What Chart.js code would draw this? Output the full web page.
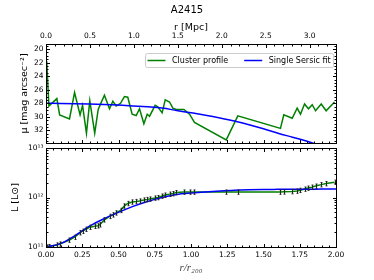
<!DOCTYPE html>
<html><head><meta charset="utf-8">
<script src="https://cdn.jsdelivr.net/npm/chart.js@4.4.1/dist/chart.umd.min.js"></script>
<style>
html,body{margin:0;padding:0;background:#fff;overflow:hidden;}
#wrap{position:relative;width:374px;height:280px;background:#fff;}
canvas{position:absolute;left:0;}
#cBot{top:140px;}
#cTop{top:0;}
</style></head><body>
<div id="wrap">
<canvas id="cBot" width="374" height="140"></canvas>
<canvas id="cTop" width="374" height="150"></canvas>
</div>
<script>
// ---------------- data ----------------
const clusterName = 'A2415';
const r200Mpc = 1.65;
const radius = [0.005, 0.02, 0.075, 0.094, 0.162, 0.197, 0.235, 0.252, 0.279, 0.302,
  0.336, 0.36, 0.372, 0.403, 0.438, 0.461, 0.484, 0.514, 0.541, 0.564,
  0.594, 0.622, 0.645, 0.675, 0.698, 0.714, 0.753, 0.771, 0.801, 0.822,
  0.852, 0.875, 0.898, 0.951, 0.99, 1.024, 1.243, 1.323, 1.617, 1.64,
  1.698, 1.732, 1.755, 1.783, 1.81, 1.836, 1.859, 1.898, 1.932, 1.99];
const muCluster = [21.8, 28.4, 27.3, 29.7, 30.3, 26.4, 29.7, 28.3, 32.4, 27.6,
  32.4, 28.9, 28.3, 26.8, 28.8, 27.7, 28.4, 28.0, 27.0, 27.1,
  29.6, 29.8, 28.8, 31.0, 29.6, 29.9, 28.3, 28.5, 29.4, 27.5,
  27.8, 28.7, 28.9, 28.9, 29.6, 30.8, 33.4, 29.85, 31.7, 29.7,
  30.2, 28.7, 29.6, 28.1, 28.8, 28.2, 29.1, 28.1, 29.1, 27.8];
const lumCluster = [1.00e11, 1.02e11, 1.10e11, 1.15e11, 1.38e11, 1.58e11, 1.95e11, 2.09e11, 2.29e11, 2.51e11,
  2.63e11, 2.69e11, 2.82e11, 3.55e11, 4.17e11, 4.47e11, 4.90e11, 5.50e11, 6.76e11, 7.59e11,
  8.13e11, 8.32e11, 8.51e11, 8.91e11, 9.12e11, 9.33e11, 9.77e11, 1.00e12, 1.07e12, 1.12e12,
  1.17e12, 1.20e12, 1.26e12, 1.29e12, 1.29e12, 1.29e12, 1.29e12, 1.29e12, 1.29e12, 1.30e12,
  1.32e12, 1.35e12, 1.40e12, 1.48e12, 1.55e12, 1.62e12, 1.70e12, 1.82e12, 1.91e12, 2.04e12];
const lumErrFrac = 0.1;
const fitRadius = [0, 0.1, 0.2, 0.3, 0.4, 0.5, 0.6, 0.7, 0.8, 0.9, 1.0,
  1.1, 1.2, 1.3, 1.4, 1.5, 1.6, 1.7, 1.8, 1.9, 2.0];
const muFit = [28.0, 28.02, 28.05, 28.1, 28.17, 28.26, 28.38, 28.52, 28.7, 29.05, 29.4,
  29.75, 30.15, 30.6, 31.15, 31.75, 32.4, 33.0, 33.6, 34.3, 35.0];
const lumFit = [1.00e11, 1.17e11, 1.70e11, 2.63e11, 3.72e11, 5.01e11, 6.61e11, 8.32e11, 1.00e12, 1.15e12, 1.23e12,
  1.29e12, 1.35e12, 1.40e12, 1.43e12, 1.45e12, 1.46e12, 1.47e12, 1.47e12, 1.48e12, 1.48e12];
const seriesLabels = ['Cluster profile', 'Single Sersic fit'];
const xTicks = [0, 0.25, 0.5, 0.75, 1.0, 1.25, 1.5, 1.75, 2.0];
const mpcTicks = [0, 0.5, 1.0, 1.5, 2.0, 2.5, 3.0];
const muTicks = [20, 22, 24, 26, 28, 30, 32];
const lumTicks = [1e11, 1e12, 1e13];

// ---------------- style helpers ----------------
const FONT = "'DejaVu Sans', sans-serif";
const GREEN = '#008000', BLUE = '#0000ff';
const TICK_FONT = {family: FONT, size: 7.5};
const LABEL_FONT = {family: FONT, size: 9.5};
Chart.defaults.font.family = FONT;

function steps(a, b, st) { const out = []; for (let v = a; v <= b + 1e-9; v += st) out.push(+v.toFixed(6)); return out; }
const xMinor = steps(0, 2, 0.05);
const mpcMinor = steps(0, 3.3, 0.1);
const muMinor = steps(19.5, 33.5, 0.5);
const lumMinor = [];
[1e11, 1e12].forEach(d => { for (let k = 2; k <= 9; k++) lumMinor.push(k * d); });

const SUP = {'0':'⁰','1':'¹','2':'²','3':'³','4':'⁴','5':'⁵','6':'⁶','7':'⁷','8':'⁸','9':'⁹','-':'⁻'};
const supStr = n => String(n).split('').map(c => SUP[c]).join('');

const fixTicks = vals => s => { s.ticks = vals.map(v => ({value: v})); };
const fixW = w => s => { s.width = w; };
const fixH = h => s => { s.height = h; };
const noGrid = {display: false, drawTicks: false};
const noBorder = {display: false};

// frame + inward tick marks
const framePlugin = {
  id: 'frame',
  afterDraw(chart, args, o) {
    const {ctx, chartArea: a} = chart;
    const L = Math.round(a.left), R = Math.round(a.right), T = Math.round(a.top), B = Math.round(a.bottom);
    ctx.save();
    ctx.strokeStyle = '#000';
    ctx.lineWidth = 1;
    ctx.strokeRect(L + 0.5, T + 0.5, R - L, B - T);
    o.edges.forEach(e => {
      const s = chart.scales[e.scale];
      const draw = (v, len) => {
        const p = s.getPixelForValue(v);
        const q = Math.round(p) + 0.5;
        ctx.beginPath();
        if (e.side === 'bottom' || e.side === 'top') {
          if (p < L - 0.5 || p > R + 0.5) return;
          const y = e.side === 'bottom' ? B + 0.5 : T + 0.5;
          const d = e.side === 'bottom' ? -len : len;
          ctx.moveTo(q, y); ctx.lineTo(q, y + d);
        } else {
          if (p < T - 0.5 || p > B + 0.5) return;
          const x = e.side === 'left' ? L + 0.5 : R + 0.5;
          const d = e.side === 'left' ? len : -len;
          ctx.moveTo(x, q); ctx.lineTo(x + d, q);
        }
        ctx.stroke();
      };
      e.minor.forEach(v => draw(v, 2));
      e.major.forEach(v => draw(v, 3.5));
    });
    ctx.restore();
  }
};

// legend box inside the upper panel
const legendPlugin = {
  id: 'boxLegend',
  afterDraw(chart, args, o) {
    if (!o.show) return;
    const {ctx, chartArea: a} = chart;
    ctx.save();
    ctx.font = `8px ${FONT}`;
    const items = chart.data.datasets.map(d => ({label: d.label, color: d.borderColor, w: ctx.measureText(d.label).width}));
    const pad = 2.5, lineLen = 18, gap = 6.5, colGap = 16, h = 14;
    const width = pad * 2 + items.reduce((s, it) => s + lineLen + gap + it.w, 0) + colGap * (items.length - 1);
    const x0 = Math.round(a.right - 3 - width), y0 = Math.round(a.top + 9);
    ctx.beginPath();
    ctx.roundRect(x0 + 0.5, y0 + 0.5, width, h, 2);
    ctx.fillStyle = 'rgba(255,255,255,0.85)';
    ctx.fill();
    ctx.strokeStyle = '#cccccc';
    ctx.lineWidth = 1;
    ctx.stroke();
    let x = x0 + pad;
    const yc = y0 + h / 2 + 0.5;
    items.forEach(it => {
      ctx.strokeStyle = it.color; ctx.lineWidth = 1.5;
      ctx.beginPath(); ctx.moveTo(x, yc); ctx.lineTo(x + lineLen, yc); ctx.stroke();
      ctx.fillStyle = '#000'; ctx.textBaseline = 'middle'; ctx.textAlign = 'left';
      ctx.fillText(it.label, x + lineLen + gap, yc + 0.5);
      x += lineLen + gap + it.w + colGap;
    });
    ctx.restore();
  }
};

// error bars for luminosity profile
const errorBarPlugin = {
  id: 'errBars',
  afterDatasetsDraw(chart) {
    const {ctx, chartArea: a} = chart;
    ctx.save();
    ctx.beginPath(); ctx.rect(a.left, a.top, a.right - a.left, a.bottom - a.top); ctx.clip();
    ctx.strokeStyle = '#222'; ctx.lineWidth = 1;
    chart.data.datasets.forEach(d => {
      if (d.errFrac == null) return;
      const xs = chart.scales[d.xAxisID], ys = chart.scales[d.yAxisID];
      d.data.forEach(pt => {
        const px = Math.round(xs.getPixelForValue(pt.x)) + 0.5;
        const y1 = ys.getPixelForValue(pt.y * (1 + d.errFrac));
        const y2 = ys.getPixelForValue(pt.y * (1 - d.errFrac));
        ctx.beginPath();
        ctx.moveTo(px, y1); ctx.lineTo(px, y2);
        ctx.moveTo(px - 1, y1); ctx.lineTo(px + 1, y1);
        ctx.moveTo(px - 1, y2); ctx.lineTo(px + 1, y2);
        ctx.stroke();
      });
    });
    ctx.restore();
  }
};

// ---------------- upper panel: surface brightness ----------------
new Chart(document.getElementById('cTop'), {
  type: 'line',
  data: {datasets: [
    {label: seriesLabels[0], xAxisID: 'x', yAxisID: 'y',
     data: radius.map((r, i) => ({x: r, y: muCluster[i]})),
     borderColor: GREEN, borderWidth: 1.5, pointRadius: 0, tension: 0, order: 1},
    {label: seriesLabels[1], xAxisID: 'x', yAxisID: 'y',
     data: fitRadius.map((r, i) => ({x: r, y: muFit[i]})),
     borderColor: BLUE, borderWidth: 1.5, pointRadius: 0, cubicInterpolationMode: 'monotone', order: 0}
  ]},
  options: {
    responsive: false, animation: false, devicePixelRatio: 1,
    layout: {padding: {left: 0, right: 0, top: 0, bottom: 2}},
    plugins: {
      legend: {display: false}, tooltip: {enabled: false},
      title: {display: true, text: clusterName, color: '#000', font: {family: FONT, size: 10, weight: 'normal'}, padding: {top: 4, bottom: 0}},
      frame: {edges: [
        {scale: 'x', side: 'bottom', major: xTicks, minor: xMinor},
        {scale: 'xTop', side: 'top', major: mpcTicks, minor: mpcMinor},
        {scale: 'y', side: 'left', major: muTicks, minor: muMinor},
        {scale: 'y', side: 'right', major: muTicks, minor: muMinor}
      ]},
      boxLegend: {show: true}
    },
    scales: {
      x: {type: 'linear', min: 0, max: 2, display: false},
      xTop: {type: 'linear', position: 'top', min: 0, max: 2 * r200Mpc, grid: noGrid, border: noBorder,
        ticks: {font: TICK_FONT, color: '#000', padding: 3.5, maxRotation: 0, autoSkip: false, callback: v => v.toFixed(1)},
        title: {display: true, text: 'r [Mpc]', color: '#000', font: LABEL_FONT, padding: {top: 5.5, bottom: 0}},
        afterBuildTicks: fixTicks(mpcTicks), afterFit: fixH(28)},
      y: {type: 'linear', position: 'left', reverse: true, min: 19.25, max: 33.85, grid: noGrid, border: noBorder,
        ticks: {font: TICK_FONT, color: '#000', padding: 2.5, autoSkip: false, callback: v => String(v)},
        title: {display: true, text: 'μ [mag arcsec⁻²]', color: '#000', font: LABEL_FONT, padding: {top: 19, bottom: 0}},
        afterBuildTicks: fixTicks(muTicks), afterFit: fixW(46)},
      yR: {type: 'linear', position: 'right', grid: noGrid, border: noBorder, ticks: {display: false}, afterFit: fixW(38)}
    }
  },
  plugins: [framePlugin, legendPlugin]
});

// ---------------- lower panel: cumulative luminosity ----------------
new Chart(document.getElementById('cBot'), {
  type: 'line',
  data: {datasets: [
    {label: seriesLabels[0], xAxisID: 'x', yAxisID: 'y',
     data: radius.map((r, i) => ({x: r, y: lumCluster[i]})), errFrac: lumErrFrac,
     borderColor: GREEN, borderWidth: 1.5, pointRadius: 0, tension: 0, order: 1},
    {label: seriesLabels[1], xAxisID: 'x', yAxisID: 'y',
     data: fitRadius.map((r, i) => ({x: r, y: lumFit[i]})),
     borderColor: BLUE, borderWidth: 1.5, pointRadius: 0, cubicInterpolationMode: 'monotone', order: 0}
  ]},
  options: {
    responsive: false, animation: false, devicePixelRatio: 1,
    layout: {padding: {left: 0, right: 0, top: 8, bottom: 0}},
    plugins: {
      legend: {display: false}, tooltip: {enabled: false}, title: {display: false},
      frame: {edges: [
        {scale: 'x', side: 'bottom', major: xTicks, minor: xMinor},
        {scale: 'x', side: 'top', major: xTicks, minor: xMinor},
        {scale: 'y', side: 'left', major: lumTicks, minor: lumMinor},
        {scale: 'y', side: 'right', major: lumTicks, minor: lumMinor}
      ]},
      boxLegend: {show: false}
    },
    scales: {
      x: {type: 'linear', position: 'bottom', min: 0, max: 2, grid: noGrid, border: noBorder,
        ticks: {font: TICK_FONT, color: '#000', padding: 3.5, maxRotation: 0, autoSkip: false, callback: v => v.toFixed(2)},
        title: {display: true, text: 'r/r₂₀₀', color: '#444', font: {family: "'Liberation Serif', serif", style: 'italic', size: 11}, padding: {top: 0, bottom: 5}},
        afterBuildTicks: fixTicks(xTicks), afterFit: fixH(33)},
      y: {type: 'logarithmic', position: 'left', min: 1e11, max: 1e13, grid: noGrid, border: noBorder,
        ticks: {font: TICK_FONT, color: '#000', padding: 2.5, autoSkip: false,
          callback: v => '10' + supStr(Math.round(Math.log10(v)))},
        title: {display: true, text: 'L [L⊙]', color: '#000', font: LABEL_FONT, padding: {top: 10, bottom: 0}},
        afterBuildTicks: fixTicks(lumTicks), afterFit: fixW(46)},
      yR: {type: 'linear', position: 'right', grid: noGrid, border: noBorder, ticks: {display: false}, afterFit: fixW(38)}
    }
  },
  plugins: [framePlugin, legendPlugin, errorBarPlugin]
});
</script>
</body></html>
